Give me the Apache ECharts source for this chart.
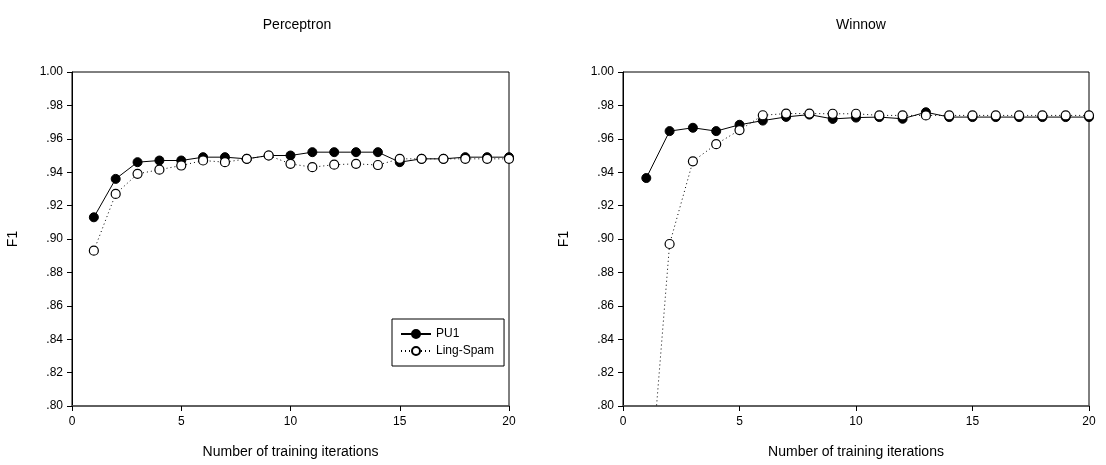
<!DOCTYPE html>
<html>
<head>
<meta charset="utf-8">
<script src="https://cdn.jsdelivr.net/npm/echarts@6/dist/echarts.min.js"></script>
<style>
  html, body { margin: 0; padding: 0; background: #fff; }
  #chart { width: 1106px; height: 465px; }
</style>
</head>
<body>
<div id="chart"></div>
<script>
// Training iterations (x values)
const iterations = [1, 2, 3, 4, 5, 6, 7, 8, 9, 10, 11, 12, 13, 14, 15, 16, 17, 18, 19, 20];

// Perceptron F1
const perceptronPU1 = [0.913, 0.936, 0.946, 0.947, 0.947, 0.949, 0.949, 0.948, 0.950, 0.950,
  0.952, 0.952, 0.952, 0.952, 0.946, 0.948, 0.948, 0.949, 0.949, 0.949];
const perceptronLing = [0.893, 0.927, 0.939, 0.9415, 0.944, 0.947, 0.946, 0.948, 0.950, 0.945,
  0.943, 0.9445, 0.945, 0.9443, 0.948, 0.948, 0.948, 0.948, 0.948, 0.948];

// Winnow F1 (first Ling-Spam point lies below the axis range)
const winnowPU1 = [0.9365, 0.9646, 0.9666, 0.9646, 0.9684, 0.9709, 0.9731, 0.9745, 0.9719, 0.9727,
  0.973, 0.972, 0.9759, 0.973, 0.973, 0.973, 0.973, 0.973, 0.973, 0.973];
const winnowLing = [0.724, 0.897, 0.9465, 0.9568, 0.9652, 0.9741, 0.9751, 0.9751, 0.975, 0.975,
  0.974, 0.974, 0.974, 0.974, 0.974, 0.974, 0.974, 0.974, 0.974, 0.974];

const font = "Liberation Sans, Arial, sans-serif";

function pairs(values) {
  return iterations.map((x, i) => [x, values[i]]);
}

function yLabel(v) {
  if (Math.abs(v - 1) < 1e-9) return "1.00";
  return "." + Math.round(v * 100).toString().padStart(2, "0");
}

function xAxisFor(gridIndex) {
  return {
    type: "value",
    gridIndex: gridIndex,
    min: 0,
    max: 20,
    interval: 5,
    name: "Number of training iterations",
    nameLocation: "middle",
    nameGap: 39,
    nameTextStyle: { color: "#000", fontSize: 14, fontFamily: font },
    axisLine: { show: true, onZero: false, lineStyle: { color: "#555", width: 1.5 } },
    axisTick: { show: true, length: 5, lineStyle: { color: "#000" } },
    axisLabel: { color: "#000", fontSize: 12, fontFamily: font, margin: 10 },
    splitLine: { show: false },
  };
}

function yAxisFor(gridIndex) {
  return {
    type: "value",
    gridIndex: gridIndex,
    min: 0.8,
    max: 1.0,
    interval: 0.02,
    name: "F1",
    nameLocation: "middle",
    nameGap: 52,
    nameTextStyle: { color: "#000", fontSize: 14, fontFamily: font },
    axisLine: { show: true, lineStyle: { color: "#000", width: 1 } },
    axisTick: { show: true, length: 5, lineStyle: { color: "#000" } },
    axisLabel: { color: "#000", fontSize: 12, fontFamily: font, margin: 9, formatter: yLabel },
    splitLine: { show: false },
  };
}

function pu1Series(idx, values) {
  return {
    name: "PU1",
    type: "line",
    xAxisIndex: idx,
    yAxisIndex: idx,
    data: pairs(values),
    symbol: "circle",
    symbolSize: 9,
    clip: true,
    lineStyle: { color: "#000", width: 1 },
    itemStyle: { color: "#000", borderColor: "#000", borderWidth: 1 },
  };
}

function lingSeries(idx, values) {
  return {
    name: "Ling-Spam",
    type: "line",
    xAxisIndex: idx,
    yAxisIndex: idx,
    data: pairs(values),
    symbol: "circle",
    symbolSize: 9,
    clip: true,
    lineStyle: { color: "#000", width: 1, type: [1, 3] },
    itemStyle: { color: "#fff", borderColor: "#000", borderWidth: 1.2 },
  };
}

const chart = echarts.init(document.getElementById("chart"), null, { renderer: "canvas" });

chart.setOption({
  animation: false,
  backgroundColor: "#fff",
  title: [
    { text: "Perceptron", left: 292, top: 13, textAlign: "center",
      textStyle: { color: "#000", fontSize: 14, fontWeight: "normal", fontFamily: font } },
    { text: "Winnow", left: 856, top: 13, textAlign: "center",
      textStyle: { color: "#000", fontSize: 14, fontWeight: "normal", fontFamily: font } },
  ],
  grid: [
    { left: 72, top: 72, width: 437, height: 334, show: true, borderColor: "#000", borderWidth: 1 },
    { left: 623, top: 72, width: 466, height: 334, show: true, borderColor: "#000", borderWidth: 1 },
  ],
  legend: {
    left: 392,
    top: 319,
    orient: "vertical",
    data: ["PU1", "Ling-Spam"],
    backgroundColor: "#fff",
    borderColor: "#000",
    borderWidth: 1,
    padding: [9, 10, 9, 8],
    itemGap: 5,
    itemWidth: 30,
    itemHeight: 10,
    textStyle: { color: "#000", fontSize: 12, fontFamily: font },
  },
  xAxis: [xAxisFor(0), xAxisFor(1)],
  yAxis: [yAxisFor(0), yAxisFor(1)],
  series: [
    pu1Series(0, perceptronPU1),
    lingSeries(0, perceptronLing),
    pu1Series(1, winnowPU1),
    lingSeries(1, winnowLing),
  ],
});
</script>
</body>
</html>
